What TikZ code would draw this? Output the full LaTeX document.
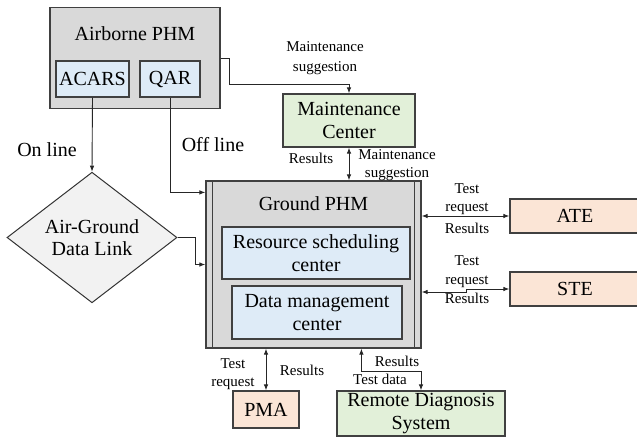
\documentclass[tikz,border=0pt]{standalone}
\usepackage{fontspec}
\setmainfont{Liberation Serif}
\usetikzlibrary{shapes.geometric,arrows.meta,calc}
\definecolor{boxgray}{HTML}{D9D9D9}
\definecolor{boxblue}{HTML}{DEEBF7}
\definecolor{boxgreen}{HTML}{E2F0D9}
\definecolor{boxpeach}{HTML}{FBE5D6}
\definecolor{diagray}{HTML}{F2F2F2}
\definecolor{edge}{HTML}{404040}
\tikzset{
  bigtxt/.style={font=\fontsize{20}{22.5}\selectfont, align=center},
  smalltxt/.style={font=\fontsize{15}{20}\selectfont, inner sep=0pt, text height=10pt, text depth=3pt, align=center},
  basebox/.style={draw=edge, line width=1.2pt, rectangle, inner sep=0pt, bigtxt},
  graybox/.style={basebox, fill=boxgray},
  bluebox/.style={basebox, fill=boxblue},
  greenbox/.style={basebox, fill=boxgreen},
  peachbox/.style={basebox, fill=boxpeach},
  conn/.style={draw=black!85, line width=0.9pt, -{Latex[length=6pt,width=4.5pt]}},
  dconn/.style={draw=black!85, line width=0.9pt, {Latex[length=6pt,width=4.5pt]}-{Latex[length=6pt,width=4.5pt]}},
}
\begin{document}
\begin{tikzpicture}[x=1pt,y=-1pt]
\useasboundingbox (0,0) rectangle (637,445);
% Airborne PHM
\node[graybox, minimum width=170pt, minimum height=101pt] (air) at (135,58) {};
\node[bigtxt, inner sep=0pt] (airt) at (135,34) {Airborne PHM};
\node[bluebox, minimum width=73pt, minimum height=36pt] (acars) at (92.5,79) {ACARS};
\node[bluebox, minimum width=60pt, minimum height=36pt] (qar) at (170,79) {QAR};
% Maintenance center
\node[greenbox, minimum width=132pt, minimum height=53pt] (mc) at (349,120.5) {Maintenance\\Center};
% Diamond
\node[diamond, draw=black!80, line width=1pt, fill=diagray, minimum width=170pt, minimum height=101pt, inner sep=0pt, bigtxt] (dl) at (92,237.5) {Air-Ground\\Data Link};
% Ground PHM
\node[graybox, minimum width=215pt, minimum height=167pt] (ground) at (313.5,264.5) {};
\draw[edge, line width=1.2pt] ($(ground.north west)+(7,0)$) -- ($(ground.south west)+(7,0)$);
\draw[edge, line width=1.2pt] ($(ground.north east)+(-7,0)$) -- ($(ground.south east)+(-7,0)$);
\node[bigtxt, inner sep=0pt] (groundt) at (313.5,204) {Ground PHM};
\node[bluebox, minimum width=188pt, minimum height=52pt] (rsc) at (316,253) {Resource scheduling\\center};
\node[bluebox, minimum width=170pt, minimum height=53pt] (dmc) at (317,312.5) {Data management\\center};
% Right boxes
\node[peachbox, minimum width=130pt, minimum height=34pt] (ate) at (575,216) {ATE};
\node[peachbox, minimum width=130pt, minimum height=34pt] (ste) at (575,289) {STE};
% Bottom boxes
\node[peachbox, minimum width=66pt, minimum height=37pt] (pma) at (266,409.5) {PMA};
\node[greenbox, minimum width=168pt, minimum height=45pt] (rds) at (421,413.5) {\raisebox{-2pt}{\parbox{160pt}{\centering Remote Diagnosis\\System}}};
% Connectors
\draw[conn] (acars.south) -- (dl.north);
\draw[conn] (qar.south) |- ($(ground.north west)+(0,12)$);
\draw[conn] (dl.east) -- ++(18,0) |- (ground.west);
\draw[conn] (air.east) -- ++(9,0) |- ($(mc.north)+(0,-9)$) -- (mc.north);
\draw[dconn] (mc.south) -- (mc.south |- ground.north);
\draw[dconn] (ate.west -| ground.east) -- (ate.west);
\draw[dconn] (ste.west) -- ++(-43,0) -- ++(0,3) -- ($(ste.west -| ground.east)+(0,3)$);
\draw[dconn] (pma.north) -- (pma.north |- ground.south);
\draw[dconn] (rds.north) -- ++(0,-19) -| ($(ground.south west)+(156,0)$);
% Labels
\node[smalltxt] (l1a) at (325,48) {Maintenance};
\node[smalltxt] (l1b) at (325,68) {suggestion};
\node[bigtxt, inner sep=0pt] (lon) at (47,150) {On line};
\node[bigtxt, inner sep=0pt] (loff) at (213,145) {Off line};
\node[smalltxt] (l2) at (311,160) {Results};
\node[smalltxt] (l3a) at (397,156) {Maintenance};
\node[smalltxt] (l3b) at (397,174) {suggestion};
\node[smalltxt] (l4a) at (467,190) {Test};
\node[smalltxt] (l4b) at (467,208) {request};
\node[smalltxt] (l4c) at (467,230) {Results};
\node[smalltxt] (l5a) at (467,262) {Test};
\node[smalltxt] (l5b) at (467,281) {request};
\node[smalltxt] (l5c) at (467,300) {Results};
\node[smalltxt] (l6a) at (233,365) {Test};
\node[smalltxt] (l6b) at (233,383) {request};
\node[smalltxt] (l6c) at (302,372) {Results};
\node[smalltxt] (l7a) at (397,363) {Results};
\node[smalltxt] (l7b) at (380,381) {Test data};
\end{tikzpicture}
\end{document}
